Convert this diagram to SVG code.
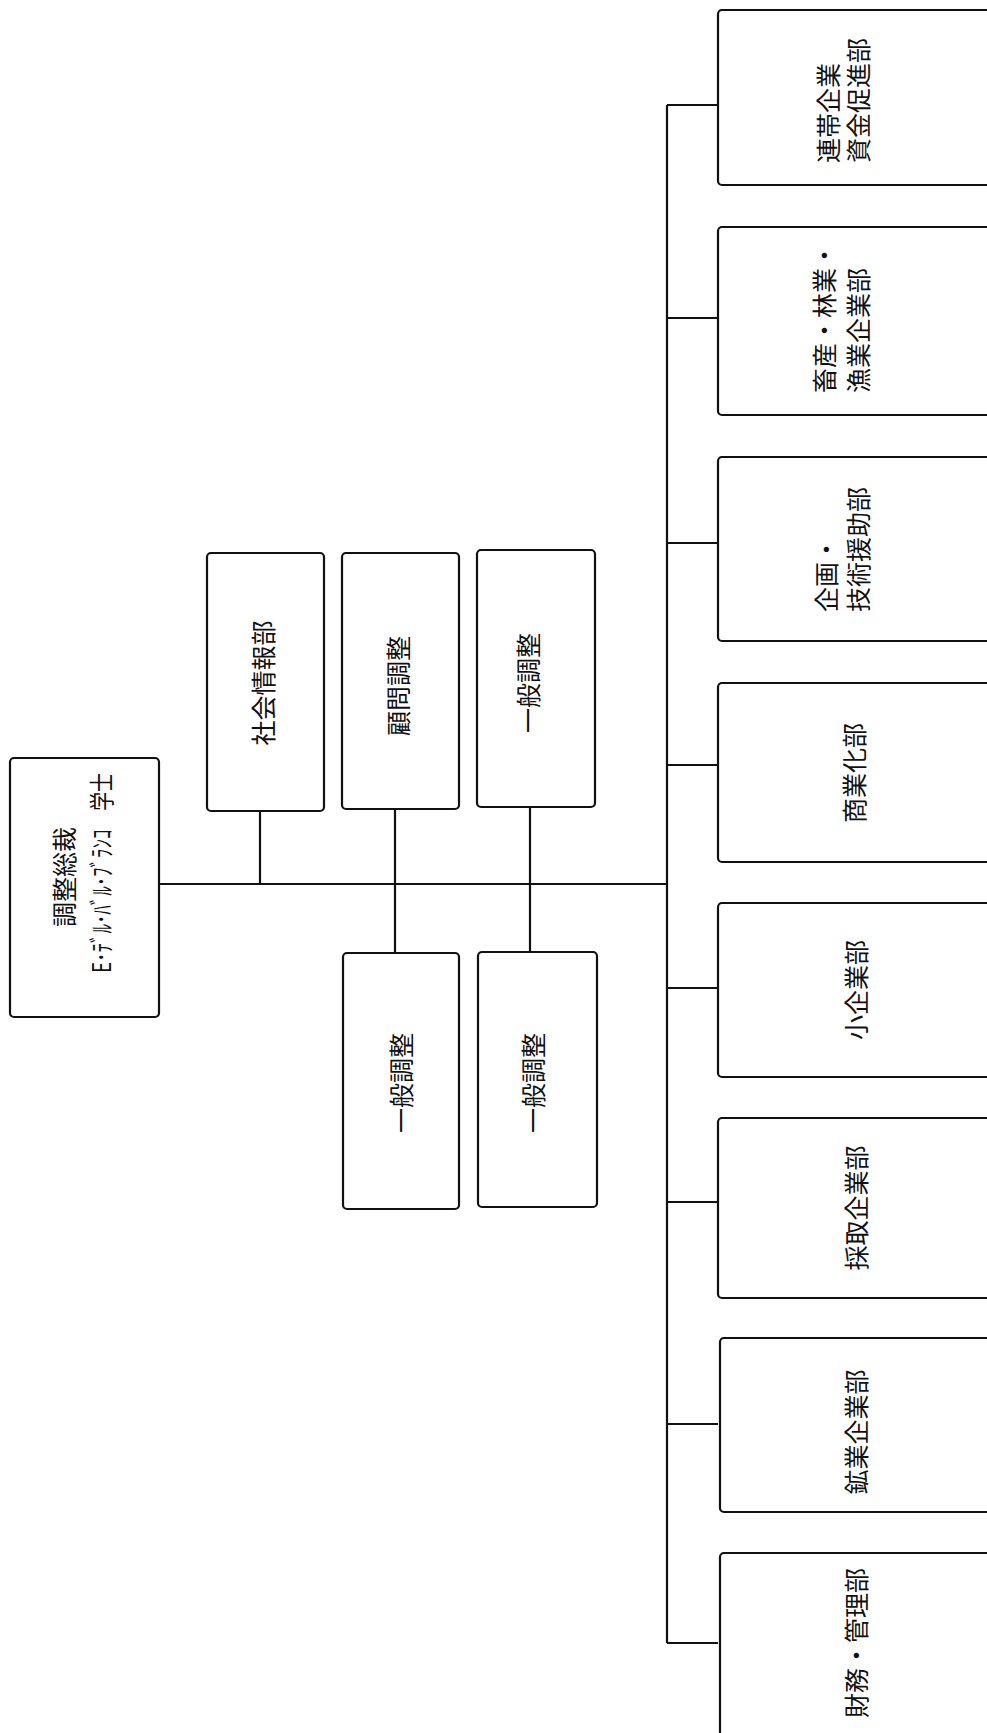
<svg xmlns="http://www.w3.org/2000/svg" width="987" height="1733" viewBox="0 0 987 1733">
<style>
.bx{fill:#fff;stroke:#111;stroke-width:2.2}
.ln{stroke:#111;stroke-width:2.2;fill:none}
.t{font-family:"Noto Sans CJK JP","Noto Sans CJK SC",sans-serif;font-size:25px;fill:#111;dominant-baseline:central}
.m{text-anchor:middle}
.s{text-anchor:start}
</style>
<rect width="987" height="1733" fill="#fff"/>
<g id="connectors">
<line class="ln" x1="159" y1="884" x2="667" y2="884"/>
<line class="ln" x1="260" y1="811" x2="260" y2="884"/>
<line class="ln" x1="395" y1="809" x2="395" y2="953"/>
<line class="ln" x1="530" y1="807" x2="530" y2="952"/>
<line class="ln" x1="667" y1="105" x2="667" y2="1643"/>
<line class="ln" x1="667" y1="105" x2="718" y2="105"/>
<line class="ln" x1="667" y1="318" x2="718" y2="318"/>
<line class="ln" x1="667" y1="543" x2="718" y2="543"/>
<line class="ln" x1="667" y1="765" x2="718" y2="765"/>
<line class="ln" x1="667" y1="988" x2="718" y2="988"/>
<line class="ln" x1="667" y1="1202" x2="718" y2="1202"/>
<line class="ln" x1="667" y1="1424" x2="718" y2="1424"/>
<line class="ln" x1="667" y1="1643" x2="718" y2="1643"/>
</g>
<g id="n_president">
<rect class="bx" x="10" y="758" width="149" height="259" rx="4"/>
<text class="t m" transform="translate(63,877) rotate(-90)">調整総裁</text>
<text class="t m" transform="translate(100,873) rotate(-90)" font-size="22" textLength="200" lengthAdjust="spacingAndGlyphs">E･ﾃﾞﾙ･ﾊﾞﾙ･ﾌﾞﾗﾝｺ　学士</text>
</g>
<g id="n_social">
<rect class="bx" x="207" y="553" width="117" height="258" rx="4"/>
<text class="t m" transform="translate(262,683) rotate(-90)">社会情報部</text>
</g>
<g id="n_advisor">
<rect class="bx" x="342" y="553" width="117" height="256" rx="4"/>
<text class="t m" transform="translate(397,686) rotate(-90)">顧問調整</text>
</g>
<g id="n_general_top">
<rect class="bx" x="477" y="550" width="118" height="257" rx="4"/>
<text class="t m" transform="translate(527,683) rotate(-90)">一般調整</text>
</g>
<g id="n_general_a">
<rect class="bx" x="343" y="953" width="116" height="256" rx="4"/>
<text class="t m" transform="translate(400,1083) rotate(-90)">一般調整</text>
</g>
<g id="n_general_b">
<rect class="bx" x="478" y="952" width="119" height="255" rx="4"/>
<text class="t m" transform="translate(532,1083) rotate(-90)">一般調整</text>
</g>
<g id="n_d1">
<rect class="bx" x="718" y="10" width="300" height="175" rx="4"/>
<text class="t s" transform="translate(827,163) rotate(-90)">連帯企業</text>
<text class="t s" transform="translate(857,163) rotate(-90)">資金促進部</text>
</g>
<g id="n_d2">
<rect class="bx" x="718" y="227" width="300" height="188" rx="4"/>
<text class="t s" transform="translate(823,393) rotate(-90)" font-size="23">畜産・林業・</text>
<text class="t s" transform="translate(857,393) rotate(-90)">漁業企業部</text>
</g>
<g id="n_d3">
<rect class="bx" x="718" y="457" width="300" height="184" rx="4"/>
<text class="t s" transform="translate(825,612) rotate(-90)">企画・</text>
<text class="t s" transform="translate(857,612) rotate(-90)">技術援助部</text>
</g>
<g id="n_d4">
<rect class="bx" x="718" y="683" width="300" height="179" rx="4"/>
<text class="t m" transform="translate(853,773) rotate(-90)">商業化部</text>
</g>
<g id="n_d5">
<rect class="bx" x="718" y="903" width="300" height="174" rx="4"/>
<text class="t m" transform="translate(855,990) rotate(-90)">小企業部</text>
</g>
<g id="n_d6">
<rect class="bx" x="718" y="1118" width="300" height="180" rx="4"/>
<text class="t m" transform="translate(855,1208) rotate(-90)">採取企業部</text>
</g>
<g id="n_d7">
<rect class="bx" x="720" y="1338" width="300" height="174" rx="4"/>
<text class="t m" transform="translate(855,1432) rotate(-90)">鉱業企業部</text>
</g>
<g id="n_d8">
<rect class="bx" x="720" y="1553" width="300" height="200" rx="4"/>
<text class="t m" transform="translate(855,1643) rotate(-90)">財務・管理部</text>
</g>
</svg>
